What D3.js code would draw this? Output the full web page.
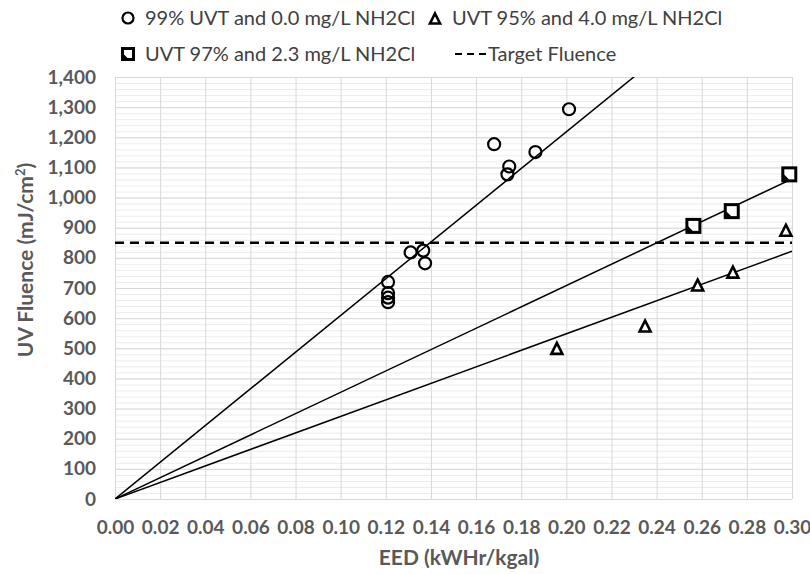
<!DOCTYPE html>
<html><head><meta charset="utf-8">
<script src="https://cdn.jsdelivr.net/npm/d3@7"></script>
<style>body{margin:0;background:#fff}svg{display:block}</style>
</head><body><svg id="c" width="810" height="574"></svg>
<script>
// Data
const circleX = [0.121, 0.121, 0.121, 0.121, 0.131, 0.1366, 0.1374, 0.168, 0.1739, 0.1747, 0.1863, 0.2012];
const circleY = [720, 683, 668, 653, 818, 824, 782, 1177, 1077, 1103, 1151, 1293];
const triX = [0.1958, 0.2349, 0.2582, 0.2738, 0.2973];
const triY = [498, 572, 708, 751, 890];
const sqX = [0.2563, 0.2733, 0.2988];
const sqY = [906, 955, 1077];
const trendSlopes = [6090, 3540, 2740]; // circle, square, triangle (through origin)
const targetFluence = 850;
const xTicks = d3.range(0, 0.3001, 0.02);
const yTicks = d3.range(0, 1401, 100);
const legendLabels = ["99% UVT and 0.0 mg/L NH2Cl", "UVT 95% and 4.0 mg/L NH2Cl", "UVT 97% and 2.3 mg/L NH2Cl", "Target Fluence"];

const svg = d3.select("#c");
const m = {l:115, r:792, t:77, b:499};
const x = d3.scaleLinear().domain([0,0.30]).range([m.l, m.r]);
const y = d3.scaleLinear().domain([0,1400]).range([m.b, m.t]);
const grid = "#d9d9d9", txt = "#595959";

// minor horizontal gridlines
svg.append("g").selectAll("line").data(d3.range(0,1401,20)).join("line")
  .attr("x1", m.l).attr("x2", m.r).attr("y1", d=>y(d)+0.5).attr("y2", d=>y(d)+0.5)
  .attr("stroke", "#ececec").attr("stroke-width", 1);
// major gridlines
svg.append("g").selectAll("line").data(yTicks).join("line")
  .attr("x1", m.l).attr("x2", m.r).attr("y1", d=>y(d)+0.5).attr("y2", d=>y(d)+0.5)
  .attr("stroke", grid).attr("stroke-width", 1);
svg.append("g").selectAll("line").data(xTicks).join("line")
  .attr("x1", d=>x(d)+0.5).attr("x2", d=>x(d)+0.5).attr("y1", m.t).attr("y2", m.b)
  .attr("stroke", grid).attr("stroke-width", 1);

// axes labels via d3 axes
const font = "Lato, 'Open Sans', sans-serif";
const xa = svg.append("g").attr("transform", `translate(0,${m.b})`)
  .call(d3.axisBottom(x).tickValues(xTicks).tickFormat(d3.format(".2f")).tickSize(0).tickPadding(22));
const ya = svg.append("g").attr("transform", `translate(${m.l},0)`)
  .call(d3.axisLeft(y).tickValues(yTicks).tickFormat(d3.format(",")).tickSize(0).tickPadding(19));
[xa, ya].forEach(a => {
  a.select(".domain").remove();
  a.selectAll("text").attr("fill", txt).style("font-family", font).style("font-weight", "bold").style("font-size", "19px");
});

// trend lines clipped to plot
svg.append("clipPath").attr("id","clip").append("rect")
  .attr("x", m.l).attr("y", m.t).attr("width", m.r-m.l).attr("height", m.b-m.t);
const tl = svg.append("g").attr("clip-path","url(#clip)");
trendSlopes.forEach(s => {
  tl.append("line").attr("x1", x(0)).attr("y1", y(0)).attr("x2", x(0.30)).attr("y2", y(0.30*s))
    .attr("stroke", "#000").attr("stroke-width", 1.5);
});
// target line
svg.append("line").attr("x1", x(0)).attr("x2", x(0.30)).attr("y1", y(targetFluence)).attr("y2", y(targetFluence))
  .attr("stroke","#000").attr("stroke-width",2.4).attr("stroke-dasharray","9,6");

// markers
function sqMarker(g, cx, cy, s) {
  g.append("rect").attr("x", cx-s/2).attr("y", cy-s/2).attr("width", s).attr("height", s)
    .attr("fill","#fff").attr("stroke","#000").attr("stroke-width",3);
  g.append("path").attr("d", `M${cx-s/2+1},${cy+s/2-1} L${cx-s/2+1},${cy} L${cx},${cy+s/2-1} Z`).attr("fill","#000");
}
function triMarker(g, cx, cy, s) {
  const h = s*0.9;
  g.append("path").attr("d", `M${cx},${cy-h/2-1} L${cx+s/2},${cy+h/2} L${cx-s/2},${cy+h/2} Z`)
    .attr("fill","#fff").attr("stroke","#000").attr("stroke-width",2.6).attr("stroke-linejoin","miter");
}
const mk = svg.append("g");
circleX.forEach((d,i) => mk.append("circle").attr("cx", x(d)).attr("cy", y(circleY[i])).attr("r", 6)
  .attr("fill","none").attr("stroke","#000").attr("stroke-width",2.2));
triX.forEach((d,i) => triMarker(mk, x(d), y(triY[i]), 11));
sqX.forEach((d,i) => sqMarker(mk, x(d), y(sqY[i]), 13));

// axis titles
svg.append("text").attr("x", 459).attr("y", 565).attr("text-anchor","middle")
  .attr("fill", txt).style("font-family", font).style("font-weight","bold").style("font-size","21px")
  .text("EED (kWHr/kgal)");
const yt = svg.append("text").attr("transform", "translate(33,260) rotate(-90)").attr("text-anchor","middle")
  .attr("fill", txt).style("font-family", font).style("font-weight","bold").style("font-size","21px");
yt.append("tspan").text("UV Fluence (mJ/cm");
yt.append("tspan").attr("dy", -8).style("font-size","13px").text("2");
yt.append("tspan").attr("dy", 8).text(")");

// legend
const lg = svg.append("g").style("font-family", font).style("font-size","20px").attr("fill","#404040");
const pos = [[128,18],[435,18],[128,54],[470,54]];
lg.append("circle").attr("cx", pos[0][0]).attr("cy", pos[0][1]).attr("r", 5.5).attr("fill","none").attr("stroke","#000").attr("stroke-width",2.2);
triMarker(lg, pos[1][0], pos[1][1]+1, 10);
sqMarker(lg, pos[2][0], pos[2][1], 11);
lg.append("line").attr("x1", 455).attr("x2", 486).attr("y1", pos[3][1]).attr("y2", pos[3][1])
  .attr("stroke","#000").attr("stroke-width",2.2).attr("stroke-dasharray","7,5");
const tx = [145, 452, 145, 488];
legendLabels.forEach((t,i) => lg.append("text").attr("x", tx[i]).attr("y", pos[i][1]+7).text(t));
</script></body></html>
